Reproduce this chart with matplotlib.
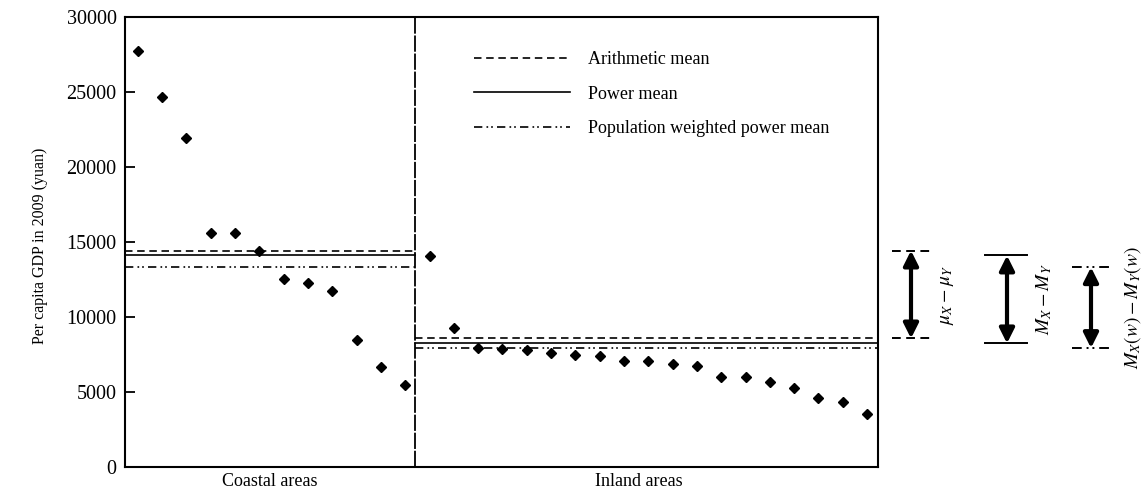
import matplotlib
matplotlib.use("Agg")
import matplotlib.pyplot as plt
import matplotlib.transforms as mtransforms

plt.rcParams['font.family'] = 'Liberation Serif'
plt.rcParams['mathtext.fontset'] = 'stix'

# per capita GDP 2009, sorted within group (yuan)
coastal = [27730, 24660, 21920, 15590, 15590, 14390, 12540, 12290, 11760, 8490, 6660, 5500]
inland = [14050, 9240, 7950, 7860, 7800, 7570, 7480, 7420, 7100, 7040, 6860, 6730,
          5970, 5970, 5660, 5280, 4590, 4360, 3520]

# means: arithmetic, power, population weighted power
coastal_means = [14430, 14100, 13320]
inland_means = [8570, 8240, 7930]
mean_labels = ["Arithmetic mean", "Power mean", "Population weighted power mean"]
mean_styles = [(0, (4.5, 2.8)), '-', (0, (5, 2.5, 1, 1.8, 1, 2.5))]
group_labels = ["Coastal areas", "Inland areas"]
yticks = [0, 5000, 10000, 15000, 20000, 25000, 30000]

fig = plt.figure(figsize=(11.42, 4.91), dpi=100)
ax = fig.add_axes([125 / 1142, 24 / 491, 753 / 1142, 450 / 491])

n_c = len(coastal)
x_c = list(range(1, n_c + 1))
x_i = list(range(n_c + 1, n_c + len(inland) + 1))
x_left, x_right = 0.47, n_c + len(inland) + 0.45
x_div = n_c + 0.4

ax.plot(x_c, coastal, 'D', color='black', ms=5.2, clip_on=False)
ax.plot(x_i, inland, 'D', color='black', ms=5.2, clip_on=False)

handles = []
for m_c, m_i, ls, lab in zip(coastal_means, inland_means, mean_styles, mean_labels):
    h, = ax.plot([x_left, x_div], [m_c, m_c], color='black', lw=1.2, linestyle=ls, label=lab)
    ax.plot([x_div, x_right], [m_i, m_i], color='black', lw=1.2, linestyle=ls)
    handles.append(h)

ax.axvline(x_div, color='black', lw=1.3, linestyle=(0, (9, 1)))

ax.set_xlim(x_left, x_right)
ax.set_ylim(0, 30000)
ax.set_yticks(yticks)
ax.set_yticklabels([str(v) for v in yticks], fontsize=14.5)
ax.tick_params(axis='y', direction='in', length=7, width=1.3, pad=6)
ax.set_xticks([(x_left + x_div) / 2, (x_div + x_right) / 2 - 0.3])
ax.set_xticklabels(group_labels, fontsize=13)
ax.tick_params(axis='x', length=0, pad=4)
ax.set_ylabel("Per capita GDP in 2009 (yuan)", fontsize=11.5)
ax.yaxis.set_label_coords(48 / 1142, 0.5, transform=fig.transFigure)
for sp in ax.spines.values():
    sp.set_linewidth(1.5)

ax.legend(handles=handles, loc='upper left', bbox_to_anchor=(465 / 1142, 1 - 42 / 491),
          bbox_transform=fig.transFigure, frameon=False, fontsize=13,
          handlelength=5.3, handletextpad=1.0, labelspacing=0.98, borderpad=0)

# difference brackets on the right
trans = mtransforms.blended_transform_factory(fig.transFigure, ax.transData)
brackets = [
    (892, 930, 911, 948, mean_styles[0], 0, r'$\mu_X - \mu_Y$'),
    (985, 1027, 1007, 1044, '-', 1, r'$M_X - M_Y$'),
    (1072, 1110, 1091, 1133, (0, (5, 2.5, 1, 2, 1, 2.5)), 2, r'$M_X(w) - M_Y(w)$'),
]
for x0, x1, xa, xt, ls, k, lab in brackets:
    top, bot = coastal_means[k], inland_means[k]
    for yv in (top, bot):
        ax.plot([x0 / 1142, x1 / 1142], [yv, yv], color='black', lw=1.4, linestyle=ls,
                transform=trans, clip_on=False)
    ax.annotate('', xy=(xa / 1142, top), xytext=(xa / 1142, bot), xycoords=trans,
                textcoords=trans,
                arrowprops=dict(arrowstyle='<|-|>', color='black', lw=3,
                                mutation_scale=22, shrinkA=0, shrinkB=0))
    ax.text(xt / 1142, (top + bot) / 2, lab, transform=trans, rotation=90,
            ha='center', va='center', fontsize=14)

fig.savefig("out.png", dpi=100)
